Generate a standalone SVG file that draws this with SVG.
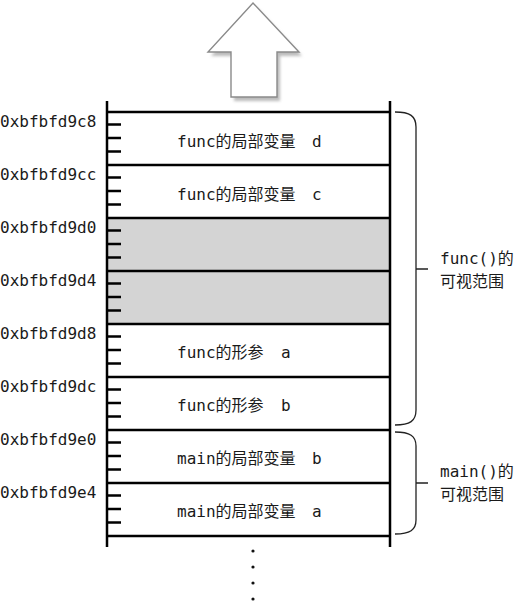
<svg xmlns="http://www.w3.org/2000/svg" width="515" height="608" viewBox="0 0 515 608">
<style>
text{font-family:"DejaVu Sans Mono","Noto Sans CJK SC",monospace;font-size:16px;fill:#1a1a1a}
.row{fill:#fff}
.gray{fill:#d4d4d4}
.hl{stroke:#000;stroke-width:2.5;fill:none}
.tick{stroke:#000;stroke-width:2.4}
.brace{stroke:#222;stroke-width:1.3;fill:none}
</style>
<defs>
<filter id="sh" x="-20%" y="-20%" width="150%" height="150%">
<feGaussianBlur stdDeviation="1.5"/>
</filter>
</defs>
<rect width="515" height="608" fill="#fff"/>
<g id="arrow">
<polygon points="256,7 302,56 280,56 280,101 234,101 234,56 211,56" fill="#bbb" filter="url(#sh)"/>
<polygon points="253,3 299,52 277,52 277,97 231,97 231,52 208,52" fill="#fff" stroke="#8a8a8a" stroke-width="1.4"/>
</g>
<g id="stack">
<rect class="gray" x="107" y="218" width="283" height="106"/>
<line class="hl" x1="107" y1="101" x2="107" y2="547"/>
<line class="hl" x1="390" y1="101" x2="390" y2="547"/>
<line class="hl" x1="107" y1="112" x2="390" y2="112"/>
<line class="hl" x1="107" y1="165" x2="390" y2="165"/>
<line class="hl" x1="107" y1="218" x2="390" y2="218"/>
<line class="hl" x1="107" y1="271" x2="390" y2="271"/>
<line class="hl" x1="107" y1="324" x2="390" y2="324"/>
<line class="hl" x1="107" y1="377" x2="390" y2="377"/>
<line class="hl" x1="107" y1="430" x2="390" y2="430"/>
<line class="hl" x1="107" y1="483" x2="390" y2="483"/>
<line class="hl" x1="107" y1="536" x2="390" y2="536"/>
<path class="tick" d="M107,124.5H121M107,138H121M107,151.5H121
M107,177.5H121M107,191H121M107,204.5H121
M107,230.5H121M107,244H121M107,257.5H121
M107,283.5H121M107,297H121M107,310.5H121
M107,336.5H121M107,350H121M107,363.5H121
M107,389.5H121M107,403H121M107,416.5H121
M107,442.5H121M107,456H121M107,469.5H121
M107,495.5H121M107,509H121M107,522.5H121"/>
</g>
<g id="addresses">
<text x="0" y="127">0xbfbfd9c8</text>
<text x="0" y="180">0xbfbfd9cc</text>
<text x="0" y="233">0xbfbfd9d0</text>
<text x="0" y="286">0xbfbfd9d4</text>
<text x="0" y="339">0xbfbfd9d8</text>
<text x="0" y="392">0xbfbfd9dc</text>
<text x="0" y="445">0xbfbfd9e0</text>
<text x="0" y="498">0xbfbfd9e4</text>
</g>
<g id="row-func-d"><text x="177" y="147">func的局部变量<tspan x="312">d</tspan></text></g>
<g id="row-func-c"><text x="177" y="200">func的局部变量<tspan x="312">c</tspan></text></g>
<g id="row-func-a"><text x="177" y="358">func的形参<tspan x="281">a</tspan></text></g>
<g id="row-func-b"><text x="177" y="411">func的形参<tspan x="281">b</tspan></text></g>
<g id="row-main-b"><text x="177" y="464">main的局部变量<tspan x="312">b</tspan></text></g>
<g id="row-main-a"><text x="177" y="517">main的局部变量<tspan x="312">a</tspan></text></g>
<g id="braces">
<path class="brace" d="M395,112C410,112 416,116 416,127V410C416,421 410,425 395,425M416,269H428"/>
<path class="brace" d="M395,432C410,432 416,436 416,446V520C416,530 410,534 395,534M416,483H428"/>
</g>
<g id="label-func"><text x="440" y="264">func()的</text><text x="440" y="287">可视范围</text></g>
<g id="label-main"><text x="440" y="477">main()的</text><text x="440" y="500">可视范围</text></g>
<g id="dots" fill="#111">
<circle cx="253" cy="551" r="1.6"/>
<circle cx="253" cy="567" r="1.6"/>
<circle cx="253" cy="583" r="1.6"/>
<circle cx="253" cy="599" r="1.6"/>
</g>
</svg>
